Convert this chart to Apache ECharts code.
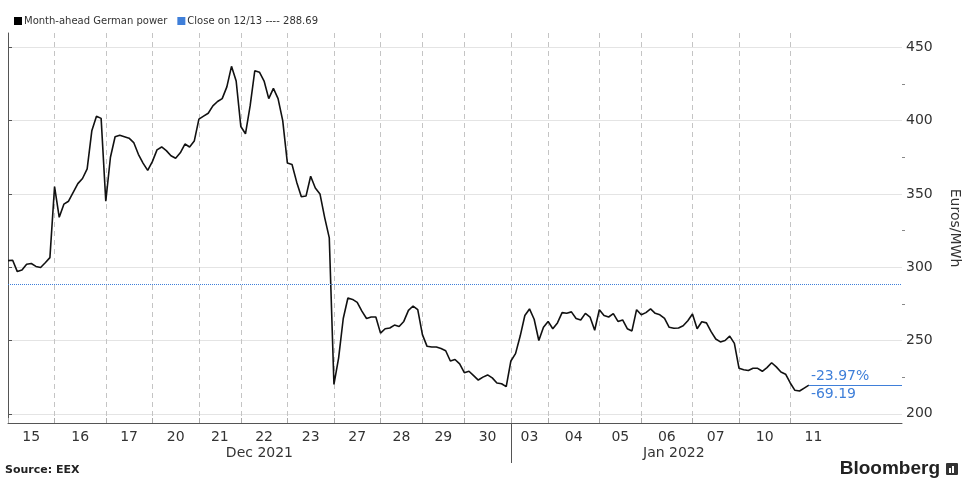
<!DOCTYPE html>
<html>
<head>
<meta charset="utf-8">
<script src="https://cdn.jsdelivr.net/npm/echarts@6/dist/echarts.min.js"></script>
<style>
html,body{margin:0;padding:0;background:#fff;}
#chart{width:962px;height:481px;}
</style>
</head>
<body>
<div id="chart"></div>
<script>
// ---- data ----
const seriesName = 'Month-ahead German power';
const closeName = 'Close on 12/13 ---- 288.69';
const closeValue = 288.69;
const dayLabels = ['15','16','17','20','21','22','23','27','28','29','30','03','04','05','06','07','10','11'];
const daySlots  = [10, 11, 10, 10, 9, 10, 10, 10, 9, 9, 10, 8, 11, 9, 11, 10, 11, 10];
const monthLabels = ['Dec 2021', 'Jan 2022'];
const monthStartDay = [0, 11]; // index into dayLabels where month begins
const yTicks = [200, 250, 300, 350, 400, 450];
const yMinorTicks = [225, 275, 325, 375, 425];

const d15 = [304.5, 304.7, 297, 298, 302, 302.5, 300.5, 299.8, 303, 306.5];
const d16 = [355, 334, 343, 345, 351, 357, 360.5, 367, 393, 403, 401.5];
const d17 = [345, 375, 389, 390, 389, 388, 385, 377, 371, 366];
const d20 = [372, 380, 382, 379.5, 376, 374.3, 378, 384, 382, 386];
const d21 = [401, 403, 405, 410, 413, 415, 423, 437, 427];
const d22 = [396, 391, 410, 434, 433, 427, 415, 422, 415, 400];
const d23 = [371, 370, 358, 348, 348.5, 362, 354, 350, 334, 320];
const d27 = [220, 238, 265, 279, 278, 276, 270, 265, 266, 266];
const d28 = [255, 258, 258.5, 260.5, 259.5, 263, 270.5, 273.5, 271];
const d29 = [254, 246, 245.5, 245.5, 244.5, 243, 236, 237, 234];
const d30 = [228, 229, 226, 223, 225, 226.5, 224.5, 221, 220.5, 218.5];
const d03 = [236, 241, 253, 267, 271.5, 264.5, 250, 259];
const d04 = [263, 258, 262, 269, 268.6, 269.5, 265, 264, 268.5, 266, 257];
const d05 = [271, 267, 266, 268.3, 263, 264, 258, 256.5, 271];
const d06 = [267.5, 269, 271.5, 268.5, 267.5, 265, 259, 258.3, 258.5, 260, 263.5];
const d07 = [268, 258, 262.8, 262, 256, 251, 249, 250, 253, 248];
const d10 = [231, 230, 229.5, 231, 231, 229, 231.5, 234.8, 232, 228.5, 227];
const d11 = [221, 216, 215.5, 217.5, 219.5];
const dayValues = [d15,d16,d17,d20,d21,d22,d23,d27,d28,d29,d30,d03,d04,d05,d06,d07,d10,d11];

// ---- build ----
const emptyTailSlots = 14;
const dayStarts = [];
let acc = 0;
daySlots.forEach(n => { dayStarts.push(acc); acc += n; });
const xMax = acc + emptyTailSlots;
const points = [];
dayValues.forEach((vals, di) => vals.forEach((v, k) => points.push([dayStarts[di] + k, v])));
const lastPt = points[points.length - 1];
const change = lastPt[1] - closeValue;
const pct = change / closeValue * 100;

const labelCenters = dayStarts.map((s, i) => s + daySlots[i] / 2);
const centerToLabel = {};
labelCenters.forEach((c, i) => centerToLabel[c] = dayLabels[i]);
const monthCenters = monthStartDay.map((sd, i) => {
  const a = dayStarts[sd];
  const b = i + 1 < monthStartDay.length ? dayStarts[monthStartDay[i + 1]] : acc;
  return (a + b) / 2;
});
const monthCenterToLabel = {};
monthCenters.forEach((c, i) => monthCenterToLabel[c] = monthLabels[i]);
const yearBoundaries = monthStartDay.slice(1).map(sd => dayStarts[sd]);

const FONT = 'DejaVu Sans';
const BLUE = '#3f7fd9';
const GRID = { left: 8, right: 60, top: 33, bottom: 58 };
const chart = echarts.init(document.getElementById('chart'));
const plotWidth = 962 - GRID.left - GRID.right;
chart.setOption({
  animation: false,
  backgroundColor: '#fff',
  textStyle: { fontFamily: FONT },
  grid: Object.assign({ containLabel: false, outerBoundsMode: 'none' }, GRID),
  legend: {
    left: 9, top: 11, icon: 'rect', itemWidth: 8, itemHeight: 8, itemGap: 10,
    textStyle: { fontSize: 10, color: '#333', fontFamily: FONT, padding: [0, 0, 0, -3] },
    data: [seriesName, closeName]
  },
  xAxis: [{
    type: 'value', min: 0, max: xMax, position: 'bottom',
    axisLine: { show: true, lineStyle: { color: '#555', width: 1 } },
    axisTick: { show: true, inside: true, length: 5, customValues: dayStarts, lineStyle: { color: '#aaa' } },
    splitLine: { show: true, lineStyle: { color: '#c4c4c4', type: [5, 4], width: 1 } },
    axisLabel: { customValues: labelCenters, formatter: v => centerToLabel[v] || '', fontSize: 14, color: '#333', margin: 7, fontFamily: FONT }
  }, {
    type: 'value', min: 0, max: xMax, position: 'bottom',
    axisLine: { show: false },
    axisTick: { show: true, inside: false, length: 40, customValues: yearBoundaries, lineStyle: { color: '#555' } },
    splitLine: { show: false },
    axisLabel: { customValues: monthCenters, formatter: v => monthCenterToLabel[v] || '', fontSize: 14, color: '#333', margin: 23, fontFamily: FONT }
  }],
  yAxis: [{
    type: 'value', position: 'right', min: 193.7, max: 459.75,
    name: 'Euros/MWh', nameLocation: 'middle', nameRotate: -90, nameGap: 46,
    nameTextStyle: { fontSize: 14, color: '#333', fontFamily: FONT },
    axisLine: { show: true, lineStyle: { color: '#555', width: 1 } },
    axisTick: { show: true, inside: false, length: 4, customValues: yTicks, lineStyle: { color: '#555' } },
    axisLabel: { customValues: yTicks, fontSize: 14, color: '#333', margin: 4, fontFamily: FONT },
    splitLine: { show: true, lineStyle: { color: '#e4e4e4', width: 1 } }
  }, {
    type: 'value', position: 'left', offset: -plotWidth, min: 193.7, max: 459.75,
    axisLine: { show: false },
    axisTick: { show: true, inside: true, length: 3, customValues: yMinorTicks, lineStyle: { color: '#888' } },
    axisLabel: { show: false },
    splitLine: { show: false }
  }],
  series: [{
    name: seriesName, type: 'line', xAxisIndex: 0, yAxisIndex: 0,
    data: points, showSymbol: false, symbol: 'none',
    itemStyle: { color: '#000' },
    lineStyle: { color: '#111', width: 1.6 },
    markLine: {
      silent: true, symbol: 'none',
      lineStyle: { color: BLUE, type: 'solid', width: 1 },
      data: [
        [{ coord: [lastPt[0], lastPt[1]], label: { show: true, position: 'insideStartTop', formatter: pct.toFixed(2) + '%', color: BLUE, fontSize: 14, distance: [2, 2], fontFamily: FONT } },
         { coord: [xMax, lastPt[1]] }],
        [{ coord: [lastPt[0], lastPt[1]], label: { show: true, position: 'insideStartBottom', formatter: change.toFixed(2), color: BLUE, fontSize: 14, distance: [2, 2], fontFamily: FONT } },
         { coord: [xMax, lastPt[1]] }]
      ]
    },
    z: 3
  }, {
    name: closeName, type: 'line', xAxisIndex: 0, yAxisIndex: 0,
    data: [], showSymbol: false,
    itemStyle: { color: BLUE },
    lineStyle: { color: BLUE },
    markLine: {
      silent: true, symbol: 'none',
      lineStyle: { color: BLUE, type: 'dotted', width: 1 },
      label: { show: false },
      data: [{ yAxis: closeValue }]
    },
    z: 2
  }],
  graphic: [
    { type: 'text', left: 5, top: 465, style: { text: 'Source: EEX', font: 'bold 11px "DejaVu Sans"', fill: '#222' } },
    { type: 'text', right: 22, top: 459, style: { text: 'Bloomberg', font: 'bold 19px "Liberation Sans"', fill: '#222' } },
    { type: 'rect', left: 946, top: 463, shape: { width: 12, height: 12, r: 1 }, style: { fill: '#333' } },
    { type: 'rect', left: 949, top: 468, shape: { width: 2, height: 5 }, style: { fill: '#fff' } },
    { type: 'rect', left: 952, top: 466, shape: { width: 2, height: 7 }, style: { fill: '#fff' } }
  ]
});
</script>
</body>
</html>
